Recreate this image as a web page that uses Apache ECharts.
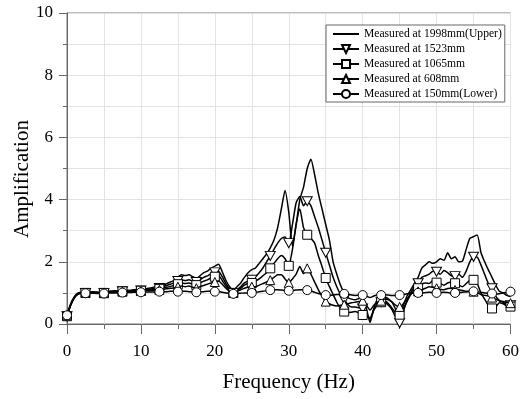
<!DOCTYPE html>
<html><head><meta charset="utf-8">
<script src="https://cdn.jsdelivr.net/npm/echarts@6/dist/echarts.min.js"></script>
<style>html,body{margin:0;padding:0;background:#fff}#c{width:522px;height:399px}</style>
</head><body><div id="c"></div>
<script>
// frequency grid (Hz), 0.5 Hz step
var freq = [];
for (var k = 0; k <= 120; k++) freq.push(k / 2);

var names = ['Measured at 1998mm(Upper)','Measured at 1523mm','Measured at 1065mm','Measured at 608mm','Measured at 150mm(Lower)'];

var upper1998 = [0.30,0.65,0.88,1.00,1.02,1.02,1.03,1.04,1.03,1.02,1.03,1.05,1.06,1.07,1.06,1.08,1.09,1.08,1.10,1.11,
1.12,1.12,1.15,1.17,1.20,1.22,1.25,1.30,1.35,1.40,1.50,1.58,1.56,1.58,1.52,1.47,1.55,1.65,1.70,1.80,
1.86,1.92,1.68,1.40,1.20,1.08,1.20,1.32,1.50,1.65,1.75,1.80,1.95,2.10,2.25,2.45,2.70,3.10,3.70,4.29,
3.60,2.50,3.20,4.00,4.40,5.00,5.30,4.80,4.20,3.70,3.20,2.70,2.00,1.60,1.25,1.00,0.85,0.80,0.78,0.82,
0.85,0.50,0.05,0.50,0.80,0.85,0.88,0.80,0.70,0.45,0.30,0.60,0.90,1.10,1.30,1.50,1.80,1.90,2.00,1.95,
2.00,2.10,2.05,2.29,2.10,2.16,2.00,2.02,2.40,2.75,2.81,2.86,2.30,2.00,1.74,1.50,1.25,1.05,1.00,0.92,0.88];

var m1523 = [0.25,0.62,0.86,0.98,1.00,1.00,1.01,1.02,1.01,1.00,1.00,1.03,1.04,1.05,1.04,1.05,1.06,1.06,1.07,1.08,
1.08,1.09,1.11,1.13,1.15,1.16,1.20,1.24,1.28,1.32,1.38,1.42,1.40,1.42,1.38,1.35,1.42,1.50,1.55,1.62,
1.66,1.70,1.52,1.30,1.12,0.98,1.10,1.20,1.32,1.38,1.42,1.52,1.65,1.80,2.00,2.19,2.40,2.60,2.75,2.80,
2.60,3.20,3.90,4.10,3.80,3.95,3.80,3.45,3.10,2.70,2.29,1.90,1.50,1.20,0.95,0.79,0.62,0.55,0.55,0.52,
0.50,0.30,0.15,0.45,0.65,0.70,0.70,0.60,0.45,0.20,0.03,0.40,0.75,1.00,1.20,1.31,1.50,1.55,1.60,1.70,
1.68,1.60,1.72,1.65,1.55,1.54,1.60,1.50,1.70,2.00,2.16,2.15,1.90,1.60,1.30,1.15,0.90,0.75,0.70,0.62,0.60];

var m1065 = [0.25,0.60,0.85,0.97,1.00,1.00,1.00,1.01,1.00,0.99,1.00,1.02,1.03,1.04,1.04,1.05,1.05,1.05,1.06,1.07,
1.07,1.08,1.09,1.10,1.12,1.13,1.16,1.18,1.21,1.24,1.28,1.32,1.30,1.32,1.28,1.25,1.32,1.38,1.42,1.48,
1.52,1.55,1.40,1.22,1.08,1.00,1.08,1.15,1.25,1.30,1.32,1.38,1.45,1.55,1.65,1.79,1.95,2.10,2.20,2.10,
1.87,2.40,3.20,3.70,3.10,2.87,2.75,2.60,2.20,1.85,1.48,1.20,0.95,0.70,0.50,0.40,0.36,0.38,0.40,0.35,
0.29,0.25,0.20,0.45,0.60,0.70,0.75,0.65,0.50,0.35,0.30,0.50,0.72,0.95,1.08,1.15,1.28,1.32,1.30,1.40,
1.33,1.30,1.25,1.32,1.35,1.31,1.25,1.20,1.30,1.40,1.42,1.30,1.00,0.80,0.60,0.50,0.55,0.68,0.65,0.58,0.56];

var m608 = [0.28,0.62,0.85,0.97,1.00,1.00,1.00,1.00,1.00,0.99,0.99,1.01,1.02,1.03,1.03,1.04,1.04,1.04,1.05,1.05,
1.06,1.06,1.07,1.08,1.09,1.10,1.12,1.13,1.15,1.16,1.20,1.22,1.20,1.22,1.18,1.15,1.20,1.24,1.28,1.32,
1.35,1.38,1.28,1.15,1.05,1.00,1.05,1.10,1.15,1.18,1.20,1.20,1.25,1.30,1.35,1.41,1.50,1.58,1.58,1.45,
1.32,1.45,1.60,1.85,1.62,1.79,1.60,1.35,1.10,0.90,0.72,0.65,0.60,0.58,0.60,0.62,0.65,0.68,0.70,0.72,
0.75,0.60,0.45,0.60,0.70,0.75,0.80,0.78,0.70,0.60,0.55,0.65,0.80,0.95,1.02,1.05,1.10,1.15,1.20,1.18,
1.15,1.12,1.10,1.14,1.15,1.09,1.10,1.08,1.05,1.05,1.04,1.00,0.95,0.92,0.90,0.85,0.80,0.75,0.72,0.70,0.67];

var lower150 = [0.28,0.62,0.85,0.96,0.98,0.99,0.99,0.99,0.98,0.98,0.98,0.99,1.00,1.00,1.00,1.01,1.01,1.01,1.02,1.02,
1.02,1.02,1.03,1.03,1.03,1.04,1.04,1.04,1.05,1.05,1.04,1.05,1.05,1.04,1.03,1.02,1.03,1.04,1.05,1.05,
1.04,1.05,1.02,1.00,0.98,0.97,0.98,0.99,1.00,1.00,1.00,1.02,1.04,1.05,1.07,1.09,1.10,1.10,1.09,1.08,
1.07,1.08,1.09,1.10,1.10,1.09,1.06,1.02,0.98,0.95,0.93,0.92,0.93,0.95,0.96,0.97,0.95,0.93,0.92,0.93,
0.93,0.90,0.85,0.90,0.93,0.93,0.94,0.93,0.92,0.92,0.93,0.95,0.97,0.99,1.00,1.00,1.00,1.01,1.02,1.01,
1.00,1.01,1.02,1.01,1.00,1.00,1.01,1.02,1.03,1.04,1.05,1.04,1.02,1.00,0.99,0.98,0.96,0.97,1.00,1.02,1.04];

var xTicks = [0,10,20,30,40,50,60];
var yTicks = [0,2,4,6,8,10];

var FONT = 'Liberation Serif';
var downTri = 'path://M0,0 L10,0 L5,9 Z';
var symbols = ['circle', downTri, 'rect', 'triangle', 'circle'];
var values = [upper1998, m1523, m1065, m608, lower150];

function mkData(v, withMarkers) {
  return freq.map(function (f, i) {
    var d = { value: [f, v[i]] };
    if (!withMarkers || Math.abs(f / 2.5 - Math.round(f / 2.5)) > 1e-6) d.symbol = 'none';
    return d;
  });
}

var series = values.map(function (v, s) {
  return {
    name: names[s],
    type: 'line',
    data: mkData(v, s > 0),
    symbol: symbols[s],
    symbolSize: s === 1 ? [10, 9] : 9,
    showSymbol: true,
    showAllSymbol: true,
    smooth: 0.2,
    lineStyle: { color: '#000', width: 1.5 },
    itemStyle: { color: '#fff', borderColor: '#000', borderWidth: 1 },
    emphasis: { disabled: true },
    z: 2 + s
  };
});

var legendData = names.map(function (n, i) {
  return i === 0 ? { name: n, itemStyle: { opacity: 0 } } : { name: n };
});

var chart = echarts.init(document.getElementById('c'), null, { renderer: 'canvas' });
chart.setOption({
  animation: false,
  backgroundColor: '#fff',
  grid: { left: 67, right: 9, top: 13, bottom: 75, show: true, borderColor: '#777', borderWidth: 1, backgroundColor: 'transparent' },
  legend: {
    orient: 'vertical', left: 326, top: 25,
    data: legendData,
    itemWidth: 26, itemHeight: 10, itemGap: 3,
    padding: [3, 3, 2, 6],
    borderColor: '#666', borderWidth: 1, backgroundColor: '#fff',
    textStyle: { fontFamily: FONT, fontSize: 11.6, lineHeight: 11, color: '#000' },
    selectedMode: false
  },
  xAxis: {
    type: 'value', min: xTicks[0], max: xTicks[xTicks.length - 1], interval: 10,
    name: 'Frequency (Hz)', nameLocation: 'middle', nameGap: 48,
    nameTextStyle: { fontFamily: FONT, fontSize: 21, color: '#000' },
    axisLine: { show: true, onZero: false, lineStyle: { color: '#666' } },
    axisTick: { show: true, inside: false, length: 10, lineStyle: { color: '#666' } },
    minorTick: { show: true, splitNumber: 2, length: 5, lineStyle: { color: '#666' } },
    axisLabel: { fontFamily: FONT, fontSize: 17, color: '#000', margin: 19 },
    splitLine: { show: true, lineStyle: { color: '#e3e3e3' } },
    minorSplitLine: { show: true, lineStyle: { color: '#e3e3e3' } }
  },
  yAxis: {
    type: 'value', min: yTicks[0], max: yTicks[yTicks.length - 1], interval: 2,
    axisLine: { show: true, lineStyle: { color: '#666' } },
    axisTick: { show: true, inside: false, length: 8, lineStyle: { color: '#666' } },
    minorTick: { show: true, splitNumber: 2, length: 4, lineStyle: { color: '#666' } },
    axisLabel: { fontFamily: FONT, fontSize: 17, color: '#000', margin: 14 },
    splitLine: { show: true, lineStyle: { color: '#e3e3e3' } },
    minorSplitLine: { show: true, lineStyle: { color: '#e3e3e3' } }
  },
  graphic: [{
    type: 'text', x: 22, y: 179, rotation: Math.PI / 2,
    style: { text: 'Amplification', fontFamily: FONT, fontSize: 21, fill: '#000', align: 'center', verticalAlign: 'middle' }
  }],
  series: series
});
</script>
</body></html>
